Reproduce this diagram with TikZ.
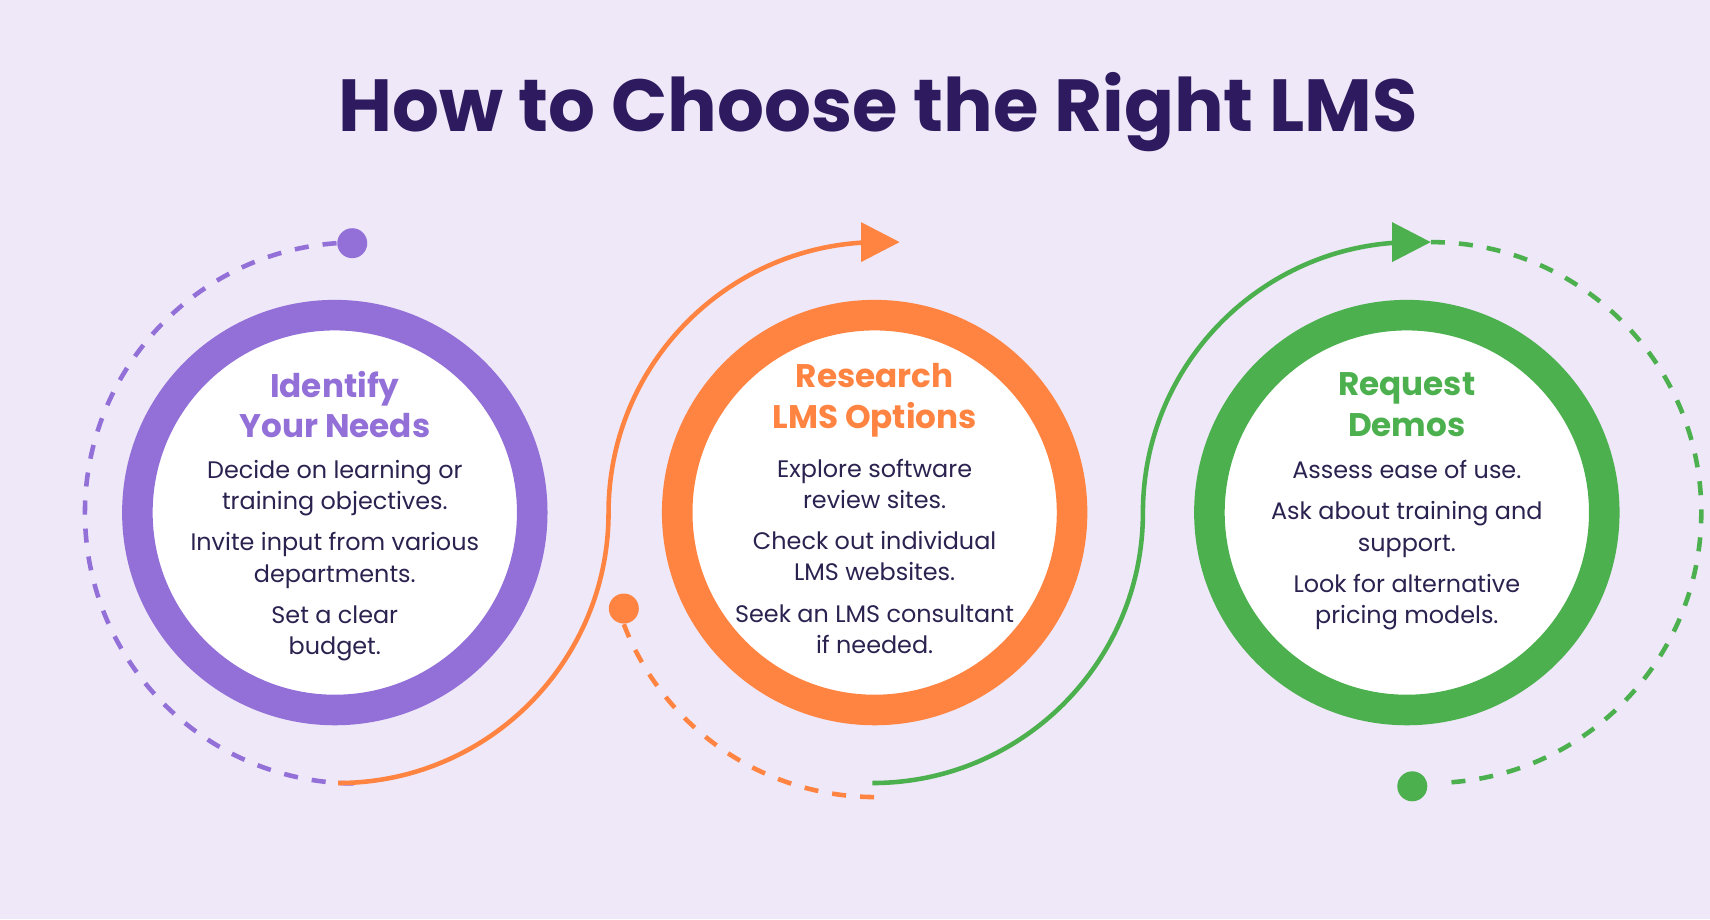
\documentclass[tikz,border=0pt]{standalone}
\usepackage{fontspec}
\setmainfont{Poppins}
\usetikzlibrary{arrows.meta}
\definecolor{bgc}{HTML}{EEE8F8}
\definecolor{ink}{HTML}{2E1A5E}
\definecolor{txt}{HTML}{2B2250}
\definecolor{pur}{HTML}{9370D8}
\definecolor{ora}{HTML}{FF8442}
\definecolor{grn}{HTML}{4CB04E}
\begin{document}
\begin{tikzpicture}[x=0.010906cm, y=0.010906cm,
    ring/.style={circle, draw=#1, line width=8.7pt, fill=white, minimum size=3.95cm, inner sep=0pt},
    head/.style={font=\fontsize{9.3}{11.5}\selectfont\bfseries, text=#1, align=center},
    body/.style={font=\fontsize{6.8}{8.9}\selectfont, text=txt, align=center},
    dashline/.style={draw=#1, line width=1.3pt, dash pattern=on 4pt off 4pt},
    solidline/.style={draw=#1, line width=1.3pt},
    dot/.style={circle, fill=#1, minimum size=0.3cm, inner sep=0pt}
]
\fill[bgc] (0,0) rectangle (1568,843);
\useasboundingbox (0,0) rectangle (1568,843);

\node[font=\fontsize{21}{24}\selectfont\bfseries, text=ink] (title) at (805,740) {How to Choose the Right LMS};

% circles
\node[ring=pur] (needs) at (307,373) {};
\node[ring=ora] (research) at (802,373) {};
\node[ring=grn] (demos) at (1290,373) {};

% paths
\node[dot=pur] (pdot) at (323,620) {};
\draw[dashline=pur] (pdot.west) arc[start angle=94, end angle=270, radius=248];
\draw[solidline=ora, -{Triangle[length=11pt,width=11pt]}] (310,125) arc[start angle=-90, end angle=0, radius=248]
    arc[start angle=180, end angle=90, radius=248] -- (825,621);
\node[dot=ora] (odot) at (572,285) {};
\draw[dashline=ora] (odot.south) arc[start angle=201, end angle=270, radius=247];
\draw[solidline=grn, -{Triangle[length=11pt,width=11pt]}] (800,125) arc[start angle=-90, end angle=0, radius=248]
    arc[start angle=180, end angle=90, radius=248] -- (1312,621);
\draw[dashline=grn] (1312,621) arc[start angle=90, end angle=-88, radius=248];
\node[dot=grn] (gdot) at (1295,122) {};

% texts
\node[head=pur] (h1) at (307,472) {Identify\\Your Needs};
\node[body] (b1) at (307,329) {Decide on learning or\\training objectives.\\[1mm]Invite input from various\\departments.\\[1mm]Set a clear\\budget.};
\node[head=ora] (h2) at (802,476) {Research\\LMS Options};
\node[body] (b2) at (802,333) {Explore software\\review sites.\\[1mm]Check out individual\\LMS websites.\\[1mm]Seek an LMS consultant\\if needed.};
\node[head=grn] (h3) at (1290,472) {Request\\Demos};
\node[body] (b3) at (1290,343) {Assess ease of use.\\[1mm]Ask about training and\\support.\\[1mm]Look for alternative\\pricing models.};
\end{tikzpicture}
\end{document}
